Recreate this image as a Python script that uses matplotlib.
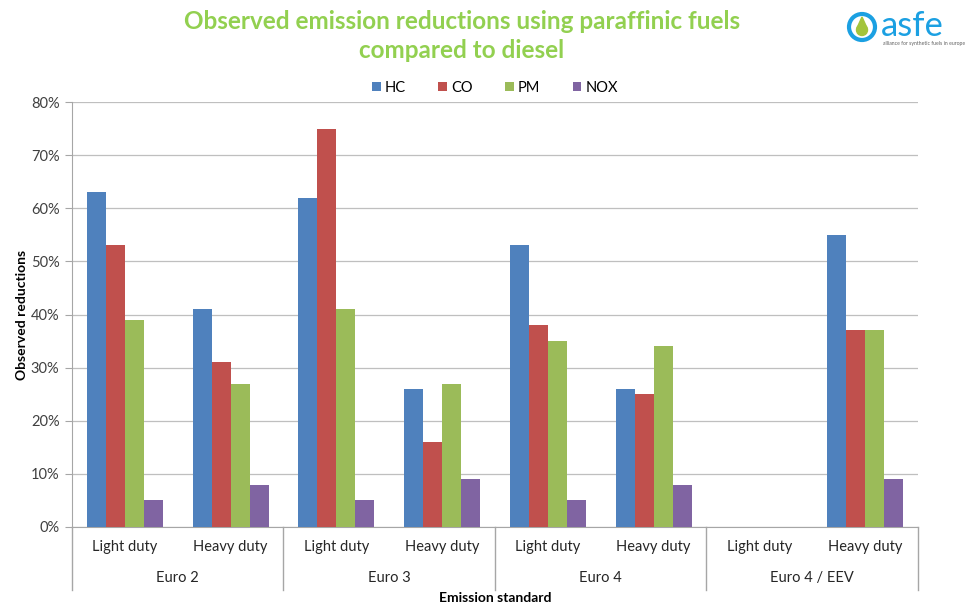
import numpy as np
from matplotlib import pyplot as plt
from matplotlib import transforms
from matplotlib.patches import Circle, Ellipse, Polygon
from matplotlib.lines import Line2D

# data
groups = ['Euro 2', 'Euro 3', 'Euro 4', 'Euro 4 / EEV']
duties = ['Light duty', 'Heavy duty']
pollutants = ['HC', 'CO', 'PM', 'NOX']
hc = [63, 41, 62, 26, 53, 26, np.nan, 55]
co = [53, 31, 75, 16, 38, 25, np.nan, 37]
pm = [39, 27, 41, 27, 35, 34, np.nan, 37]
nox = [5, 8, 5, 9, 5, 8, np.nan, 9]
colors = ['#4F81BD', '#C0504D', '#9BBB59', '#8064A2']

plt.rcParams['font.family'] = ['Lato', 'DejaVu Sans']

fig = plt.figure(figsize=(9.7, 6.05), dpi=100)
ax = fig.add_axes([72 / 970, 1 - 527 / 605, 846 / 970, 425 / 605])

series = [hc, co, pm, nox]
n_cat = len(groups) * len(duties)
x = np.arange(n_cat)
width = 0.18
for i, (vals, col, name) in enumerate(zip(series, colors, pollutants)):
    ax.bar(x + (i - 1.5) * width, np.array(vals) / 100.0, width, color=col,
           label=name, zorder=3)

ax.set_xlim(-0.5, n_cat - 0.5)
ax.set_ylim(0, 0.8)
ax.set_yticks(np.arange(0, 0.81, 0.1))
ax.set_yticklabels(['%d%%' % v for v in range(0, 81, 10)], fontsize=10.5, color='#404040')
ax.yaxis.grid(True, color='#BFBFBF', linewidth=0.9, zorder=0)
ax.tick_params(axis='y', length=5, color='#A6A6A6', pad=4)

ax.set_xticks(x)
ax.set_xticklabels(duties * len(groups), fontsize=10.5, color='#262626')
ax.tick_params(axis='x', length=0, pad=9)

for s in ['top', 'right']:
    ax.spines[s].set_visible(False)
for s in ['left', 'bottom']:
    ax.spines[s].set_color('#A6A6A6')

# group labels and separators for the two level category axis
trans = transforms.blended_transform_factory(ax.transData, ax.transAxes)
for g, name in enumerate(groups):
    centre = g * len(duties) + (len(duties) - 1) / 2.0
    ax.text(centre, -0.12, name, transform=trans, ha='center', va='center',
            fontsize=10.5, color='#262626')
for b in range(len(groups) + 1):
    xb = b * len(duties) - 0.5
    ax.add_line(Line2D([xb, xb], [0, -0.148], transform=trans, color='#A6A6A6',
                       linewidth=1, clip_on=False))

ax.set_xlabel('Emission standard', fontsize=10, fontweight='bold', labelpad=28)
ax.set_ylabel('Observed reductions', fontsize=10, fontweight='bold', labelpad=2)

ax.legend(loc='lower center', bbox_to_anchor=(0.5, 1.0), ncol=4, frameon=False,
          fontsize=10.5, handlelength=0.6, handleheight=0.6, handletextpad=0.3,
          columnspacing=2.2, borderaxespad=0.1)

fig.text(462 / 970, 1 - 36 / 605,
         'Observed emission reductions using paraffinic fuels\ncompared to diesel',
         ha='center', va='center', fontsize=17.5, fontweight='bold',
         color='#92D050', linespacing=1.3)

# logo
lax = fig.add_axes([840 / 970, 1 - 50 / 605, 130 / 970, 45 / 605])
lax.set_xlim(0, 130)
lax.set_ylim(0, 45)
lax.axis('off')
lax.add_patch(Circle((22, 23), 13, fill=False, edgecolor='#1BA0E2', linewidth=3))
lax.add_patch(Ellipse((22, 20), 11, 11, color='#A3C43B'))
lax.add_patch(Polygon([[17, 22], [27, 22], [22, 33]], closed=True, color='#A3C43B'))
lax.text(41, 14, 'asfe', fontsize=25, color='#1BA0E2', va='baseline', ha='left')
lax.text(43, 6, 'alliance for synthetic fuels in europe', fontsize=3.7,
         color='#606060', va='center', ha='left')

fig.savefig('out.png', dpi=100)
